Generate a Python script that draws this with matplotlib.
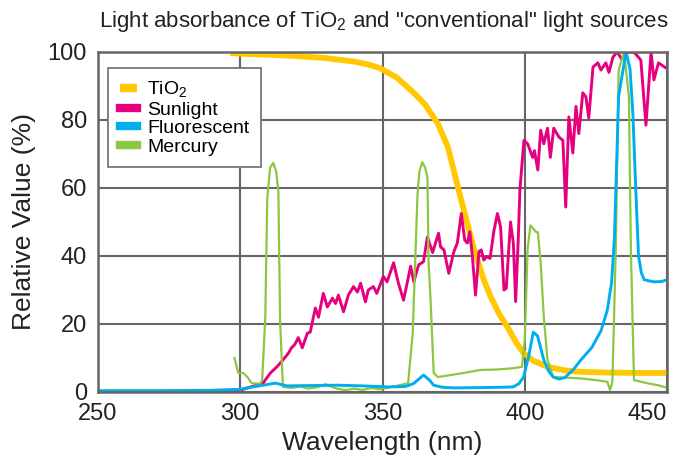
import matplotlib
matplotlib.use('Agg')
import matplotlib.pyplot as plt

plt.rcParams['font.family'] = ['Liberation Sans', 'DejaVu Sans']
plt.rcParams['mathtext.fontset'] = 'custom'
plt.rcParams['mathtext.rm'] = 'Liberation Sans'

# TiO2 absorbance
tio2_x = [296.5, 300, 310, 320, 330, 340, 345, 349, 355, 361, 365, 369.4, 373, 377.5,
          382, 385.6, 388, 391, 394, 397, 399.6, 403, 408, 414, 420, 430, 440, 450]
tio2_y = [99.7, 99.5, 99.2, 98.8, 98.2, 97.2, 96.3, 95.3, 92.5, 88, 84.5, 79, 72, 57,
          42.5, 33, 28, 23, 19, 14.5, 11.5, 9.2, 7.4, 6.4, 5.9, 5.7, 5.6, 5.6]

# Sunlight spectrum
sun_x = [298, 300, 302.5, 305, 308, 310.6, 313, 315, 317, 318, 319.2, 320.4, 321.8, 323.6,
         324.6, 326.4, 327.5, 329.2, 330.6, 332.4, 333.5, 334.5, 336.3, 338, 339.8, 341.2,
         342.3, 344, 345, 346.8, 348, 350.3, 351.6, 353.9, 355.6, 357.4, 359.9, 361, 362.7,
         364.4, 365.8, 367.6, 369.7, 370.4, 371.6, 373.3, 375.1, 376.3, 377.7, 378.9, 379.8,
         380.7, 381.6, 382.7, 383.9, 384.7, 385.6, 386.6, 387.8, 389.2, 390.4, 391.5, 392.7,
         393.5, 395, 396, 396.8, 397.7, 398.3, 399.7, 401, 402.8, 403.4, 404.6, 405.6, 406.7,
         408, 409, 410.2, 412, 413.4, 414.4, 415.5, 416.9, 418, 419, 420.4, 421.5, 422.5, 424,
         425.7, 426.8, 428.5, 429.6, 431, 432.5, 434, 436, 438.4, 440.8, 442.6, 444.4, 445.4,
         447, 449.6, 450]
sun_y = [0.3, 0.5, 1.2, 1.8, 2.6, 5.6, 7.5, 9.4, 11.5, 13, 14, 16, 13, 17.3,
         17.6, 24.7, 22, 29, 25, 27.6, 26, 28.5, 23.6, 28.5, 31, 29.4,
         32, 26.5, 30, 31, 29, 34, 32.4, 38, 32, 27, 37, 32.4, 37.4,
         38.3, 45.6, 41, 46.7, 42.7, 41.8, 34.9, 41.3, 43.8, 52.5, 44.7, 43.8,
         47.1, 39.8, 28.5, 41.3, 41.8, 38.8, 39.8, 39.3, 47.6, 52.5, 48.6, 30,
         30.5, 50, 43.7, 26.6, 44.7, 59.4, 74, 73, 69, 71, 65.3, 77, 73,
         77.6, 69, 77.6, 75, 74, 54.4, 80.9, 70.3, 84, 76, 88, 86.8, 80.6, 95.6,
         96.8, 94.7, 96.8, 94, 98.5, 100, 98, 100, 100, 97.6, 78.5, 100, 91.8,
         96.8, 95.3, 95.5]

# Fluorescent lamp spectrum
fluo_x = [250, 270, 290, 293, 300, 304.6, 308, 312.3, 316.5, 325, 334, 343, 351.8, 358,
          361, 364.4, 366.5, 368, 371, 375, 385, 392, 396, 398, 399.6, 401.5, 403, 404.5,
          406.7, 408.5, 410, 412, 414, 417, 419.7, 423.5, 426.8, 429, 430.5, 431.5, 433,
          435.6, 437, 438, 439, 440, 441, 442, 445.4, 448, 450]
fluo_y = [0.4, 0.4, 0.5, 0.6, 0.8, 1.5, 2.0, 2.6, 1.8, 1.9, 2.0, 1.8, 1.5, 1.6,
          2.5, 5.0, 3.5, 2.0, 1.4, 1.2, 1.3, 1.4, 1.5, 2.5, 4.4, 11, 17.6, 16.5,
          9.4, 6, 4.4, 3.8, 4.2, 6.5, 9.4, 13, 18, 24, 32, 45, 87,
          100, 95, 82, 60, 40, 35, 33, 32.4, 32.5, 33]

# Mercury lamp spectrum
hg_x = [298, 299.3, 301, 302.5, 304, 307, 307.7, 308.8, 309.5, 310.5, 311.6, 312.6, 313.4,
        314, 315, 318, 321, 324, 327, 330, 332, 334, 337, 340, 343, 346, 349, 352, 356,
        359, 360.6, 362.3, 363, 364, 365, 365.8, 366.2, 366.9, 368, 369.4, 374, 378.5,
        384.5, 390, 396, 399, 400, 401, 402, 403.9, 404.6, 405.6, 406.7, 408, 410, 415,
        419.7, 425, 429, 430, 430.8, 432, 433, 434.9, 436.6, 437.3, 438.4, 443, 446.8,
        449, 450]
hg_y = [10, 5.6, 5.6, 4.4, 2.6, 2.4, 3.5, 22, 57, 66, 67.4, 65, 59,
        21, 1.5, 1.2, 1.6, 1.0, 1.4, 2.3, 1.6, 1.0, 0.5, 1.0, 0.6, 1.2, 0.8, 1.3, 2,
        2.6, 17, 58, 65, 67.6, 66, 63, 38, 27, 5.6, 4.4, 5, 5.6,
        6.5, 6.6, 7, 7.4, 15, 42, 49, 47.1, 47, 38, 22, 9.4, 4.4, 4.2,
        4, 3.5, 3, 0.6, 3, 42, 94.7, 100, 87, 42, 3.5, 2.6, 2,
        1.5, 1.3]

x_ticks = [250, 300, 350, 400, 450]
y_ticks = [0, 20, 40, 60, 80, 100]

fig = plt.figure(figsize=(6.87, 4.57), dpi=100)
ax = fig.add_axes([98/687, 1-392/457, 569/687, 340/457])

ax.plot(tio2_x, tio2_y, color='#FFC800', lw=4.2, label='TiO$_2$', zorder=3, solid_capstyle='butt')
ax.plot(sun_x, sun_y, color='#E6007E', lw=2.1, label='Sunlight', zorder=4)
ax.plot(fluo_x, fluo_y, color='#00AEEF', lw=2.1, label='Fluorescent', zorder=6)
ax.plot(hg_x, hg_y, color='#8DC63F', lw=1.6, label='Mercury', zorder=5)

ax.set_xlim(250, 450)
ax.set_ylim(0, 100)
ax.set_xticks(x_ticks)
ax.set_yticks(y_ticks)
ax.set_xticklabels([str(v) for v in x_ticks])
ax.set_yticklabels([str(v) for v in y_ticks])
ax.tick_params(length=0, labelsize=17, colors='#222222', pad=8)
ax.get_xticklabels()[-1].set_horizontalalignment('right')
ax.grid(True, color='#666666', lw=1.5, zorder=1)
for s in ax.spines.values():
    s.set_color('#666666')
    s.set_linewidth(1.8)
    s.set_zorder(7)

ax.set_xlabel('Wavelength (nm)', fontsize=19, color='#222222', labelpad=4)
ax.set_ylabel('Relative Value (%)', fontsize=19, color='#222222', labelpad=8)
fig.text(0.558, 0.952, 'Light absorbance of TiO$_2$ and "conventional" light sources',
         ha='center', va='center', fontsize=16, color='#222222')

leg = ax.legend(loc='upper left', bbox_to_anchor=(10/569, 324/340), borderaxespad=0,
                fontsize=14, fancybox=False, framealpha=1, edgecolor='#777777',
                handlelength=0.9, handletextpad=0.5, labelspacing=0.05, borderpad=0.6)
leg.get_frame().set_linewidth(1.3)
for h in leg.get_lines():
    h.set_linewidth(6)
leg.set_zorder(10)

fig.savefig('out.png', dpi=100)
